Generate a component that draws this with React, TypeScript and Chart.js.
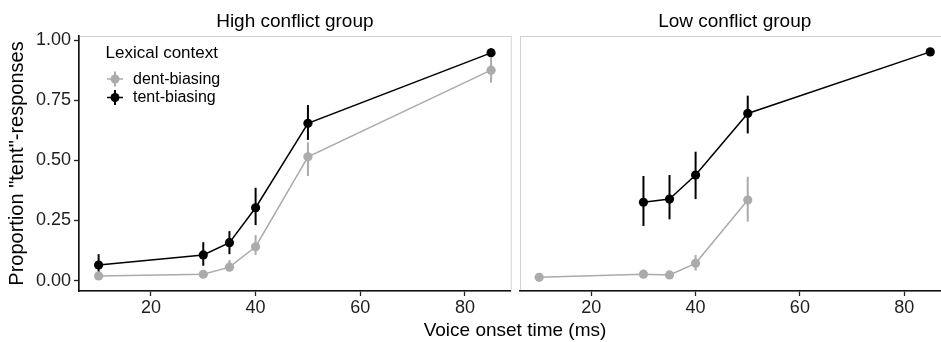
import React, { useEffect, useRef } from 'react';
import { Chart, registerables } from 'chart.js';

Chart.register(...registerables);

const FONT = '"Liberation Sans", Arial, Helvetica, sans-serif';

// ---- data ----
const panelTitles = ['High conflict group', 'Low conflict group'];
const seriesNames = ['dent-biasing', 'tent-biasing'];
const legendTitle = 'Lexical context';
const xTitle = 'Voice onset time (ms)';
const yTitle = 'Proportion "tent"-responses';

const xTicks = [20, 40, 60, 80];
const yTicks = [0, 0.25, 0.5, 0.75, 1];

// High conflict group
const highVot = [10, 30, 35, 40, 50, 85];
const highTent = [0.065, 0.107, 0.158, 0.303, 0.654, 0.947];
const highTentLo = [0.035, 0.062, 0.11, 0.231, 0.585, 0.93];
const highTentHi = [0.11, 0.16, 0.206, 0.386, 0.73, 0.966];
const highDent = [0.0195, 0.0266, 0.056, 0.141, 0.515, 0.875];
const highDentLo = [0.008, 0.015, 0.04, 0.107, 0.435, 0.823];
const highDentHi = [0.032, 0.038, 0.086, 0.19, 0.575, 0.925];

// Low conflict group
const lowVotTent = [30, 35, 40, 50, 85];
const lowTent = [0.326, 0.339, 0.439, 0.695, 0.951];
const lowTentLo = [0.227, 0.255, 0.339, 0.612, 0.94];
const lowTentHi = [0.435, 0.439, 0.536, 0.769, 0.962];
const lowVotDent = [10, 30, 35, 40, 50];
const lowDent = [0.014, 0.027, 0.024, 0.072, 0.335];
const lowDentLo = [0.008, 0.018, 0.016, 0.042, 0.245];
const lowDentHi = [0.02, 0.036, 0.032, 0.107, 0.432];

const X_MIN = 6.25;
const X_MAX = 88.75;
const Y_MIN = -0.043;
const Y_MAX = 1.017;

const GRAY = '#ababab';
const BLACK = '#000000';

type ErrSeries = { x: number[]; lo: number[]; hi: number[]; color: string };

function pts(xs: number[], ys: number[]) {
  return xs.map((x, i) => ({ x, y: ys[i] }));
}

function makePlugin(title: string, errs: ErrSeries[], withLegend: boolean) {
  return {
    id: 'panelDecor',
    beforeDraw(chart: any) {
      const { ctx, chartArea: a } = chart;
      ctx.save();
      ctx.strokeStyle = '#d2d2d2';
      ctx.lineWidth = 1;
      ctx.strokeRect(Math.round(a.left) + 0.5, Math.round(a.top) + 0.5, a.right - a.left, a.bottom - a.top);
      ctx.fillStyle = '#000';
      ctx.font = `19px ${FONT}`;
      ctx.textAlign = 'center';
      ctx.textBaseline = 'alphabetic';
      ctx.fillText(title, (a.left + a.right) / 2, 26.5);
      ctx.restore();
    },
    beforeDatasetsDraw(chart: any) {
      const { ctx } = chart;
      const xs = chart.scales.x;
      const ys = chart.scales.y;
      ctx.save();
      ctx.lineWidth = 2;
      errs.forEach((e) => {
        ctx.strokeStyle = e.color;
        e.x.forEach((xv, i) => {
          const px = xs.getPixelForValue(xv);
          ctx.beginPath();
          ctx.moveTo(px, ys.getPixelForValue(e.lo[i]));
          ctx.lineTo(px, ys.getPixelForValue(e.hi[i]));
          ctx.stroke();
        });
      });
      ctx.restore();
    },
    afterDraw(chart: any) {
      if (!withLegend) return;
      const { ctx } = chart;
      ctx.save();
      // shared x title
      ctx.fillStyle = '#000';
      ctx.font = `19px ${FONT}`;
      ctx.textAlign = 'center';
      ctx.textBaseline = 'alphabetic';
      ctx.fillText(xTitle, 515, 335.5);
      // legend
      ctx.textAlign = 'left';
      ctx.font = `17px ${FONT}`;
      ctx.fillText(legendTitle, 105.5, 57.5);
      const colors = [GRAY, BLACK];
      const ys = [79, 97.5];
      ctx.font = `16px ${FONT}`;
      seriesNames.forEach((name, i) => {
        const cx = 115;
        const cy = ys[i];
        ctx.strokeStyle = colors[i];
        ctx.fillStyle = colors[i];
        ctx.lineWidth = 1.5;
        ctx.beginPath();
        ctx.moveTo(cx - 8, cy);
        ctx.lineTo(cx + 8, cy);
        ctx.stroke();
        ctx.lineWidth = 2;
        ctx.beginPath();
        ctx.moveTo(cx, cy - 7.5);
        ctx.lineTo(cx, cy + 7.5);
        ctx.stroke();
        ctx.beginPath();
        ctx.arc(cx, cy, 4.5, 0, Math.PI * 2);
        ctx.fill();
        ctx.fillStyle = '#000';
        ctx.textBaseline = 'middle';
        ctx.fillText(name, 133, cy + 0.5);
      });
      ctx.restore();
    },
  };
}

function dataset(label: string, data: { x: number; y: number }[], color: string, order: number) {
  return {
    label,
    data,
    borderColor: color,
    backgroundColor: color,
    pointBackgroundColor: color,
    pointBorderColor: color,
    pointBorderWidth: 0,
    pointRadius: 4.6,
    borderWidth: 1.5,
    tension: 0,
    order,
  };
}

function makeConfig(
  title: string,
  dent: { x: number; y: number }[],
  tent: { x: number; y: number }[],
  errs: ErrSeries[],
  padding: any,
  showY: boolean,
  withLegend: boolean
): any {
  const tickFont = { size: 18, family: FONT };
  return {
    type: 'line',
    data: {
      datasets: [dataset(seriesNames[1], tent, BLACK, 0), dataset(seriesNames[0], dent, GRAY, 1)],
    },
    options: {
      responsive: true,
      maintainAspectRatio: false,
      animation: false,
      events: [],
      layout: { padding },
      plugins: { legend: { display: false }, tooltip: { enabled: false }, title: { display: false } },
      scales: {
        x: {
          type: 'linear',
          min: X_MIN,
          max: X_MAX,
          afterBuildTicks: (s: any) => {
            s.ticks = xTicks.map((v) => ({ value: v }));
          },
          afterFit: (s: any) => {
            s.height = 51;
          },
          ticks: { font: tickFont, color: '#1e1e1e', padding: 1, maxRotation: 0, callback: (v: any) => String(v) },
          grid: { display: true, drawOnChartArea: false, drawTicks: true, tickLength: 5, tickColor: '#222', tickWidth: 1.3 },
          border: { display: true, color: '#111', width: 1.6 },
        },
        y: {
          type: 'linear',
          display: showY,
          min: Y_MIN,
          max: Y_MAX,
          afterBuildTicks: (s: any) => {
            s.ticks = yTicks.map((v) => ({ value: v }));
          },
          afterFit: (s: any) => {
            s.width = showY ? 79 : 0;
          },
          ticks: { font: tickFont, color: '#1e1e1e', padding: 3, callback: (v: any) => Number(v).toFixed(2) },
          grid: { display: true, drawOnChartArea: false, drawTicks: true, tickLength: 5, tickColor: '#222', tickWidth: 1.3 },
          border: { display: true, color: '#111', width: 1.6 },
          title: {
            display: true,
            text: yTitle,
            font: { size: 20, family: FONT },
            color: '#000',
            padding: { top: 5, bottom: 0 },
          },
        },
      },
    },
    plugins: [makePlugin(title, errs, withLegend)],
  };
}

export default function App() {
  const leftRef = useRef<HTMLCanvasElement>(null);
  const rightRef = useRef<HTMLCanvasElement>(null);

  useEffect(() => {
    const left = new Chart(
      leftRef.current as HTMLCanvasElement,
      makeConfig(
        panelTitles[0],
        pts(highVot, highDent),
        pts(highVot, highTent),
        [
          { x: highVot, lo: highDentLo, hi: highDentHi, color: GRAY },
          { x: highVot, lo: highTentLo, hi: highTentHi, color: BLACK },
        ],
        { left: 0, top: 36, right: 430.3, bottom: 0 },
        true,
        true
      )
    );
    const right = new Chart(
      rightRef.current as HTMLCanvasElement,
      makeConfig(
        panelTitles[1],
        pts(lowVotDent, lowDent),
        pts(lowVotTent, lowTent),
        [
          { x: lowVotDent, lo: lowDentLo, hi: lowDentHi, color: GRAY },
          { x: lowVotTent, lo: lowTentLo, hi: lowTentHi, color: BLACK },
        ],
        { left: 4, top: 36, right: 5.2, bottom: 0 },
        false,
        false
      )
    );
    return () => {
      left.destroy();
      right.destroy();
    };
  }, []);

  return (
    <div style={{ position: 'fixed', left: 0, top: 0, width: 941, height: 342, overflow: 'hidden', background: '#fff' }}>
      <div style={{ position: 'absolute', left: 0, top: 0, width: 941, height: 342 }}>
        <canvas ref={leftRef} />
      </div>
      <div style={{ position: 'absolute', left: 515, top: 0, width: 440, height: 342 }}>
        <canvas ref={rightRef} />
      </div>
    </div>
  );
}
